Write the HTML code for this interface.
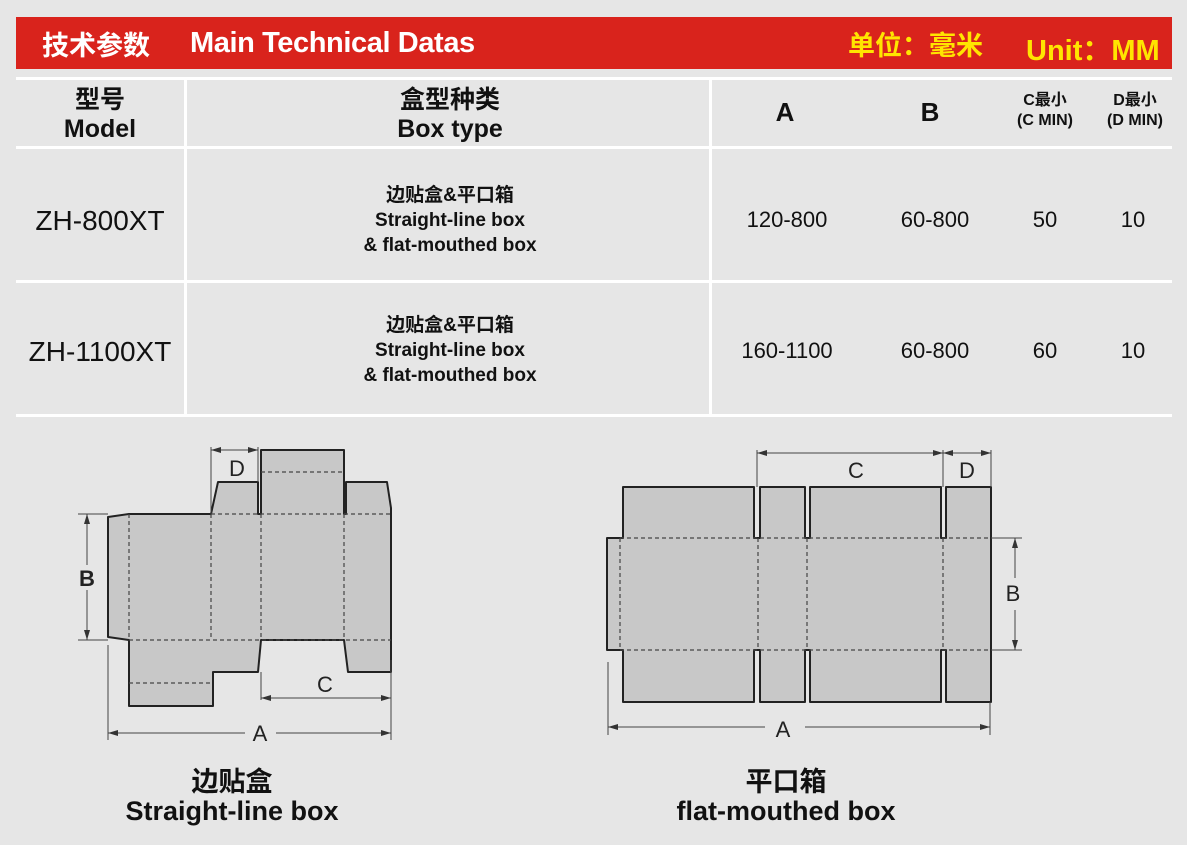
<!DOCTYPE html>
<html><head><meta charset="utf-8"><style>
body{margin:0;width:1187px;height:845px;background:#e6e6e6;position:relative;overflow:hidden;font-family:"Liberation Sans","Noto Sans CJK SC",sans-serif;}
.t{position:absolute;text-align:center;color:#111;white-space:nowrap;}
.b{font-weight:bold;}
.hl{position:absolute;background:#fff;}
</style></head><body>
<div style="position:absolute;left:16px;top:17px;width:1156px;height:52px;background:#d9231c"></div>
<div class="t b" style="left:42px;top:24px;font-size:27px;color:#fff">技术参数</div>
<div class="t b" style="left:190px;top:27px;font-size:29px;color:#fff;letter-spacing:-0.4px">Main Technical Datas</div>
<div class="t b" style="left:848px;top:24px;font-size:27px;color:#ffe500">单位：毫米</div>
<div class="t b" style="left:1026px;top:27px;font-size:29px;color:#ffe500">Unit：MM</div>

<div class="hl" style="left:16px;top:77px;width:1156px;height:3px"></div>
<div class="hl" style="left:16px;top:146px;width:1156px;height:3px"></div>
<div class="hl" style="left:16px;top:280px;width:1156px;height:3px"></div>
<div class="hl" style="left:16px;top:414px;width:1156px;height:3px"></div>
<div class="hl" style="left:184px;top:77px;width:3px;height:340px"></div>
<div class="hl" style="left:709px;top:77px;width:3px;height:340px"></div>

<div class="t b" style="left:40px;top:86px;width:120px;font-size:25px;line-height:29px">型号<br>Model</div>
<div class="t b" style="left:350px;top:86px;width:200px;font-size:25px;line-height:29px">盒型种类<br>Box type</div>
<div class="t b" style="left:760px;top:97px;width:50px;font-size:26px">A</div>
<div class="t b" style="left:905px;top:97px;width:50px;font-size:26px">B</div>
<div class="t b" style="left:1005px;top:91px;width:80px;font-size:16px;line-height:20px">C最小<br>(C MIN)</div>
<div class="t b" style="left:1095px;top:91px;width:80px;font-size:16px;line-height:20px">D最小<br>(D MIN)</div>

<div class="t" style="left:20px;top:205px;width:160px;font-size:28px">ZH-800XT</div>
<div class="t b" style="left:350px;top:183px;width:200px;font-size:19px;line-height:25px">边贴盒&amp;平口箱<br>Straight-line box<br>&amp; flat-mouthed box</div>
<div class="t" style="left:737px;top:207px;width:100px;font-size:22px">120-800</div>
<div class="t" style="left:885px;top:207px;width:100px;font-size:22px">60-800</div>
<div class="t" style="left:1020px;top:207px;width:50px;font-size:22px">50</div>
<div class="t" style="left:1108px;top:207px;width:50px;font-size:22px">10</div>

<div class="t" style="left:20px;top:336px;width:160px;font-size:28px">ZH-1100XT</div>
<div class="t b" style="left:350px;top:313px;width:200px;font-size:19px;line-height:25px">边贴盒&amp;平口箱<br>Straight-line box<br>&amp; flat-mouthed box</div>
<div class="t" style="left:737px;top:338px;width:100px;font-size:22px">160-1100</div>
<div class="t" style="left:885px;top:338px;width:100px;font-size:22px">60-800</div>
<div class="t" style="left:1020px;top:338px;width:50px;font-size:22px">60</div>
<div class="t" style="left:1108px;top:338px;width:50px;font-size:22px">10</div>

<svg style="position:absolute;left:0;top:0" width="1187" height="845">
<defs><marker id="ar" markerWidth="10" markerHeight="6" refX="10" refY="3" orient="auto-start-reverse"><path d="M0,0L10,3L0,6z" fill="#333"/></marker></defs>
<g fill="#c8c8c8" stroke="#222" stroke-width="2" stroke-linejoin="round">
<path d="M108,517 L129,514 L211,514 L218,482 L258,482 L258,514 L261,514 L261,450 L344,450 L344,514 L346,514 L346,482 L387,482 L391,508 L391,672 L348,672 L344,640 L261,640 L258,672 L213,672 L213,706 L129,706 L129,640 L108,637 Z"/>
<path d="M607,538 L620,538 L623,538 L623,487 L754,487 L754,538 L760,538 L760,487 L805,487 L805,538 L810,538 L810,487 L941,487 L941,538 L946,538 L946,487 L991,487 L991,702 L946,702 L946,650 L941,650 L941,702 L810,702 L810,650 L805,650 L805,702 L760,702 L760,650 L754,650 L754,702 L623,702 L623,650 L607,650 Z"/>
</g>
<g stroke="#444" stroke-width="1.2" stroke-dasharray="4,3" fill="none">
<path d="M129,514V640 M211,514V640 M261,514V640 M344,514V640 M211,514H391 M129,640H391 M129,683H211 M261,472H344"/>
<path d="M620,538V650 M758,538V650 M807,538V650 M943,538V650 M620,538H991 M620,650H991"/>
</g>
<g stroke="#444" stroke-width="1" fill="none">
<path d="M211,447V514 M258,447V482 M78,514H108 M78,640H108 M108,645V740 M391,660V740 M261,672V700 M391,672V700"/>
<line x1="87" y1="514" x2="87" y2="565" marker-start="url(#ar)"/><line x1="87" y1="590" x2="87" y2="640" marker-end="url(#ar)"/>
<line x1="211" y1="450" x2="258" y2="450" marker-start="url(#ar)" marker-end="url(#ar)"/>
<line x1="261" y1="698" x2="391" y2="698" marker-start="url(#ar)" marker-end="url(#ar)"/>
<line x1="108" y1="733" x2="245" y2="733" marker-start="url(#ar)"/><line x1="276" y1="733" x2="391" y2="733" marker-end="url(#ar)"/>
<path d="M757,450V487 M943,450V487 M991,450V487 M991,538H1022 M991,650H1022 M608,662V735 M990,702V735"/>
<line x1="757" y1="453" x2="943" y2="453" marker-start="url(#ar)" marker-end="url(#ar)"/>
<line x1="943" y1="453" x2="991" y2="453" marker-start="url(#ar)" marker-end="url(#ar)"/>
<line x1="1015" y1="538" x2="1015" y2="578" marker-start="url(#ar)"/><line x1="1015" y1="610" x2="1015" y2="650" marker-end="url(#ar)"/>
<line x1="608" y1="727" x2="765" y2="727" marker-start="url(#ar)"/><line x1="805" y1="727" x2="990" y2="727" marker-end="url(#ar)"/>
</g>
<g font-family="Liberation Sans,sans-serif" font-size="22" fill="#222" text-anchor="middle">
<text x="87" y="586" font-weight="bold">B</text>
<text x="237" y="476">D</text>
<text x="325" y="692">C</text>
<text x="260" y="741">A</text>
<text x="856" y="478">C</text>
<text x="967" y="478">D</text>
<text x="1013" y="601">B</text>
<text x="783" y="737">A</text>
</g>
</svg>

<div class="t b" style="left:112px;top:768px;width:240px;font-size:27px;line-height:29px">边贴盒<br>Straight-line box</div>
<div class="t b" style="left:656px;top:768px;width:260px;font-size:27px;line-height:29px">平口箱<br>flat-mouthed box</div>
</body></html>
